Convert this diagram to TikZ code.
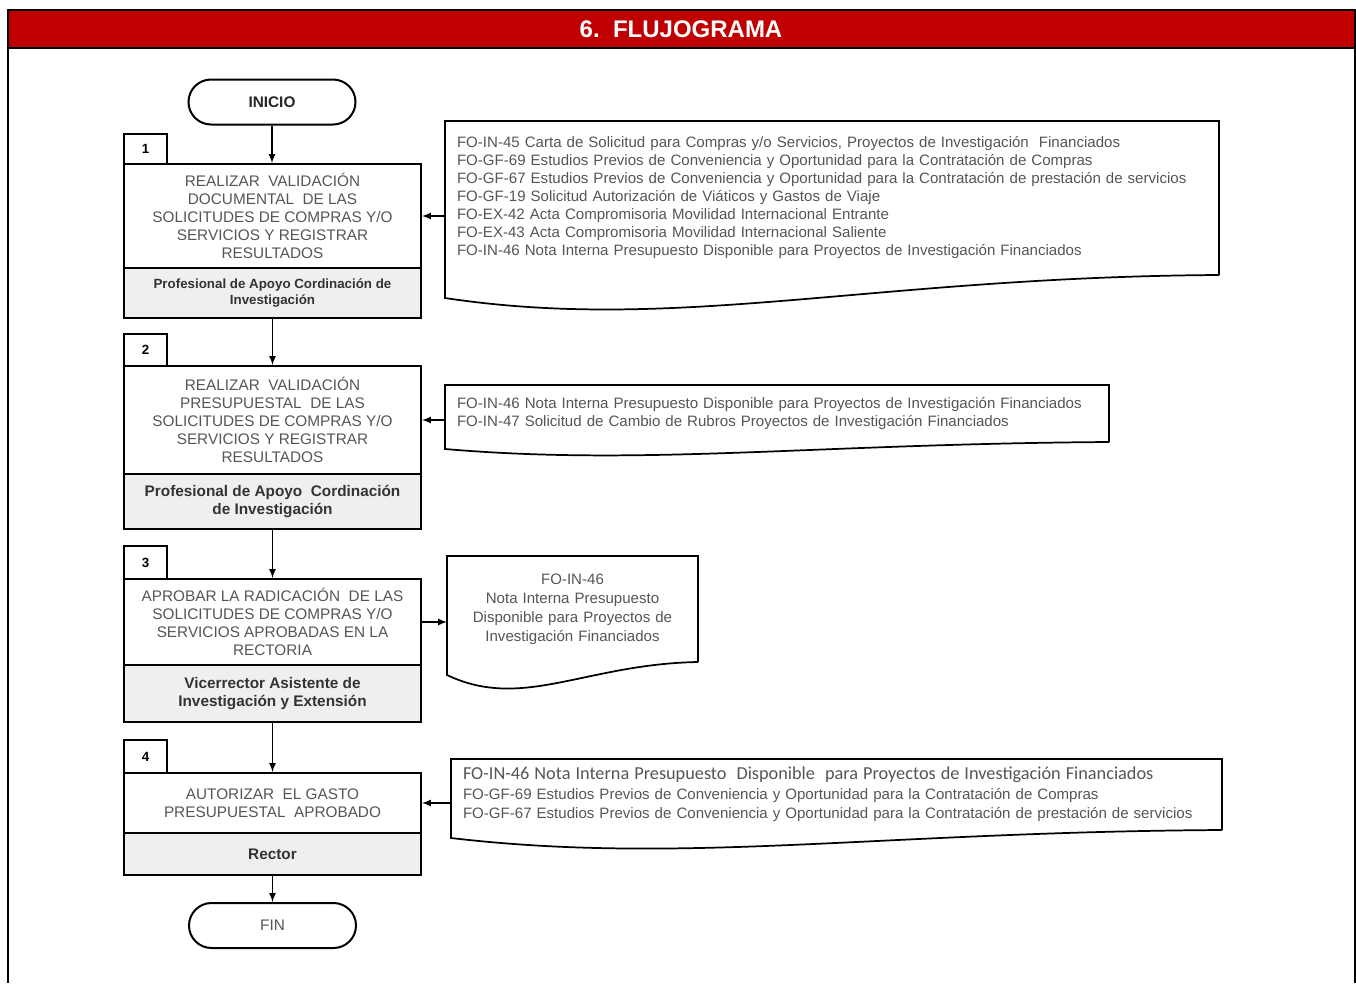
\documentclass[tikz,border=0pt]{standalone}
\usepackage{fontspec}
\setmainfont{Liberation Sans}
\newfontfamily\calfont{Carlito}
\usetikzlibrary{shapes,arrows,calc}

\newcommand{\px}{0.75pt}
\definecolor{titlered}{HTML}{C00000}
\definecolor{rolgray}{HTML}{EFEFEF}
\definecolor{txtgray}{HTML}{555555}

\tikzset{
  actbox/.style={draw, line width=1.5pt, inner sep=0pt, minimum width=297*\px, align=center, text=txtgray, font=\fontsize{11.5}{13.5}\selectfont},
  rolbox/.style={actbox, fill=rolgray, text=black!80, font=\bfseries\fontsize{11.5}{13.5}\selectfont},
  numbox/.style={draw, line width=1.5pt, inner sep=0pt, minimum width=43*\px, font=\bfseries\fontsize{10}{12}\selectfont},
  terminal/.style={draw, rounded rectangle, line width=1.5pt, inner sep=0pt, minimum width=167*\px, minimum height=45*\px, text=txtgray, font=\fontsize{11.5}{13.5}\selectfont},
  docbox/.style={anchor=north west, inner xsep=12*\px, inner ysep=0pt, outer sep=0pt, align=left, text=txtgray, font=\fontsize{11.3}{13.5}\selectfont},
  docline/.style={line width=1.3pt},
  flow/.style={line width=1.3pt, -latex}
}

% documento con borde inferior ondulado: nodo, caida izquierda, control
\newcommand{\docwave}[3]{%
  \draw[docline] (#1.south east) -- (#1.north east) -- (#1.north west) -- ($(#1.south west)+(0,#2)$)
    .. controls ($(#1.south west)!0.3!(#1.south east)+(0,#3)$) and ($(#1.south west)!0.55!(#1.south east)+(0,2)$) .. (#1.south east);}

\begin{document}
\begin{tikzpicture}[x=\px, y=-\px]
\useasboundingbox (0,0) rectangle (1356,983);

% marco y titulo
\draw[line width=1.5pt, fill=titlered] (8,10) rectangle (1355,48);
\draw[line width=1.5pt] (8,48) -- (8,983) (1355,48) -- (1355,983);
\node[text=white, font=\bfseries\fontsize{18}{20}\selectfont] (title) at (681,29) {6.\ \ FLUJOGRAMA};

\node[terminal, text=black!85, font=\bfseries\fontsize{11.5}{13.5}\selectfont] (inicio) at (272,102) {INICIO};

% paso 1
\node[numbox, minimum height=30*\px] (num1) at (145.5,149) {1};
\node[actbox, minimum height=104*\px] (act1) at (272.5,216) {REALIZAR\ \ VALIDACIÓN\\DOCUMENTAL\ \ DE LAS\\SOLICITUDES\ DE COMPRAS Y/O\\SERVICIOS\ Y REGISTRAR\\RESULTADOS};
\node[rolbox, minimum height=50*\px, font=\bfseries\fontsize{10}{12}\selectfont] (rol1) at (272.5,293) {Profesional de Apoyo Cordinación de\\Investigación};

% paso 2
\node[numbox, minimum height=32*\px] (num2) at (145.5,350) {2};
\node[actbox, minimum height=108*\px] (act2) at (272.5,420) {REALIZAR\ \ VALIDACIÓN\\PRESUPUESTAL\ \ DE LAS\\SOLICITUDES\ DE COMPRAS Y/O\\SERVICIOS\ Y REGISTRAR\\RESULTADOS};
\node[rolbox, minimum height=55*\px] (rol2) at (272.5,501.5) {Profesional de Apoyo\ \ Cordinación\\de Investigación};

% paso 3
\node[numbox, minimum height=33*\px] (num3) at (145.5,562.5) {3};
\node[actbox, minimum height=86*\px] (act3) at (272.5,622) {APROBAR LA RADICACIÓN\ \ DE LAS\\SOLICITUDES\ DE COMPRAS Y/O\\SERVICIOS\ APROBADAS EN LA\\RECTORIA};
\node[rolbox, minimum height=57*\px] (rol3) at (272.5,693.5) {Vicerrector Asistente\ de\\Investigación\ y\ Extensión};

% paso 4
\node[numbox, minimum height=33*\px] (num4) at (145.5,756.5) {4};
\node[actbox, minimum height=60*\px] (act4) at (272.5,803) {AUTORIZAR\ \ EL GASTO\\PRESUPUESTAL\ \ APROBADO};
\node[rolbox, minimum height=42*\px] (rol4) at (272.5,854) {Rector};

\node[terminal] (fin) at (272.5,925.5) {FIN};

% documentos
\node[docbox, text width=562.5pt, minimum height=154*\px] (doc1) at (445,121) {FO-IN-45 Carta de Solicitud para Compras y/o Servicios, Proyectos de Investigación\ \ Financiados\\
FO-GF-69 Estudios Previos de Conveniencia\ y Oportunidad\ para la Contratación de Compras\\
\mbox{FO-GF-67 Estudios Previos de Conveniencia\ y Oportunidad\ para la Contratación de prestación de servicios}\\
FO-GF-19 Solicitud\ Autorización\ de Viáticos y Gastos de Viaje\\
FO-EX-42 Acta Compromisoria Movilidad\ Internacional\ Entrante\\
FO-EX-43 Acta Compromisoria Movilidad\ Internacional\ Saliente\\
FO-IN-46 Nota Interna\ Presupuesto\ Disponible\ para Proyectos de Investigación\ Financiados};
\docwave{doc1}{23}{58}

\node[docbox, text width=480pt, minimum height=57*\px] (doc2) at (445,385) {\mbox{FO-IN-46\ Nota Interna\ Presupuesto\ Disponible para Proyectos de Investigación\ Financiados}\\
FO-IN-47\ Solicitud\ de Cambio de Rubros Proyectos de Investigación\ Financiados};
\docwave{doc2}{7}{24}

\node[docbox, align=center, text width=170.25pt, minimum height=106*\px, font=\fontsize{11.3}{14.2}\selectfont] (doc3) at (447,556) {FO-IN-46\\Nota\ Interna\ Presupuesto\\Disponible para Proyectos de\\Investigación\ Financiados};
\docwave{doc3}{13}{49}

\node[docbox, text width=560.25pt, minimum height=71*\px, font=\fontsize{11.3}{14.6}\selectfont] (doc4) at (451,759) {{\calfont\fontsize{13.7}{14.6}\selectfont FO-IN-46 Nota Interna Presupuesto\ \ Disponible\ \ para Proyectos de Investigación Financiados}\\
FO-GF-69 Estudios Previos de Conveniencia\ y Oportunidad\ para la Contratación de Compras\\
\mbox{FO-GF-67 Estudios Previos de Conveniencia\ y Oportunidad\ para la Contratación de prestación de servicios}};
\docwave{doc4}{8}{35}

% conectores
\draw[flow] (inicio.south) -- (inicio.south |- act1.north);
\draw[flow] (rol1.south) -- (act2.north);
\draw[flow] (rol2.south) -- (act3.north);
\draw[flow] (rol3.south) -- (act4.north);
\draw[flow] (rol4.south) -- (rol4.south |- fin.north);
\draw[flow] (doc1.west |- act1.east) -- (act1.east);
\draw[flow] (doc2.west |- act2.east) -- (act2.east);
\draw[flow] (act3.east) -- (doc3.west |- act3.east);
\draw[flow] (doc4.west |- act4.east) -- (act4.east);

\end{tikzpicture}
\end{document}
